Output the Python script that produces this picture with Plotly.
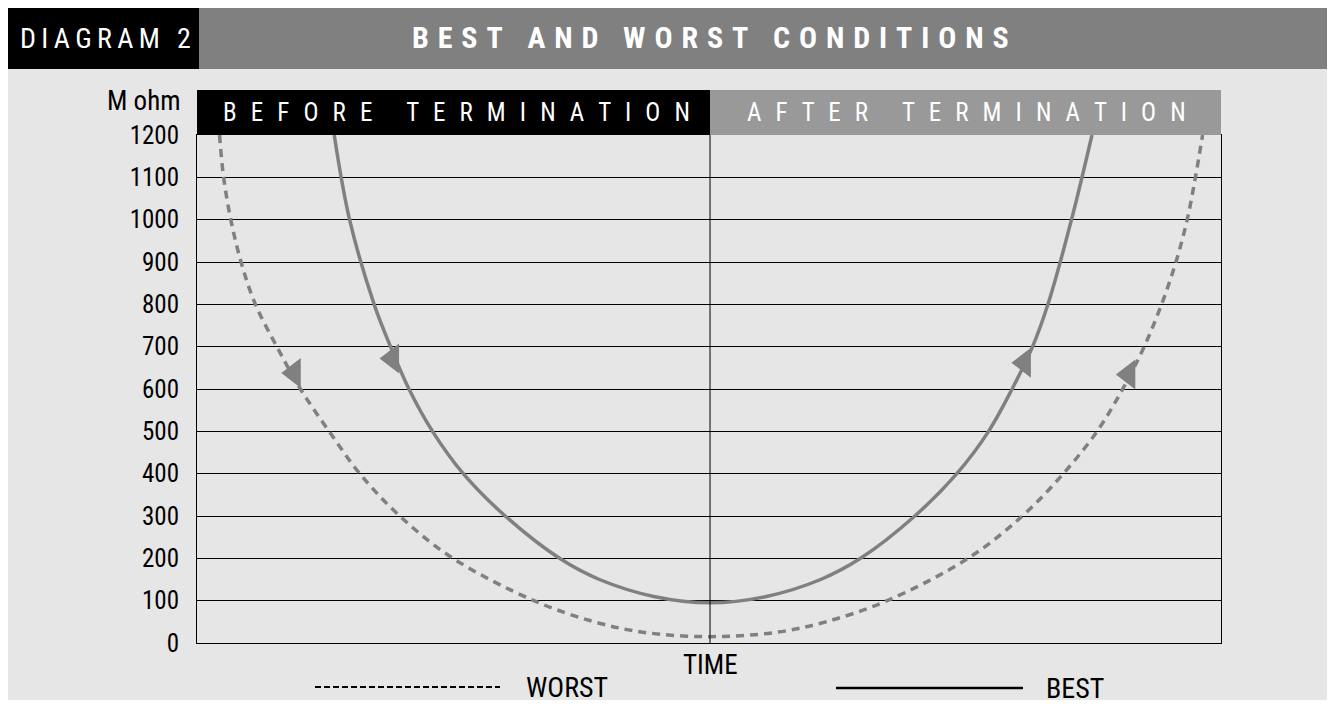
import plotly.graph_objects as go

# ---------------- data ----------------
best_time = [13.4, 14.9, 17.3, 18.9, 20.7, 23.0, 26.0, 30.1, 35.4, 39.3, 44.6, 50.1,
             55.6, 60.9, 64.8, 70.1, 74.2, 77.3, 79.6, 81.6, 83.1, 85.4, 87.4]
best_mohm = [1200, 1000, 800, 700, 600, 500, 400, 300, 200, 150, 110, 95,
             110, 150, 200, 300, 400, 500, 600, 700, 800, 1000, 1200]

worst_time = [2.2, 2.6, 3.3, 4.3, 5.7, 7.8, 10.1, 12.9, 15.9, 19.8, 25.0, 32.9, 38.8, 43.7, 50.1,
              56.5, 61.4, 67.4, 75.3, 80.6, 84.6, 87.9, 90.4, 92.5, 94.2, 95.6, 96.7, 97.5, 98.2]
worst_mohm = [1200, 1100, 1000, 900, 800, 700, 600, 500, 400, 300, 200, 100, 50, 25, 15,
              25, 50, 100, 200, 300, 400, 500, 600, 700, 800, 900, 1000, 1100, 1200]

arrow_time = [9.5, 19.1, 80.8, 91.0]
arrow_mohm = [638, 672, 662, 634]

y_ticks = [0, 100, 200, 300, 400, 500, 600, 700, 800, 900, 1000, 1100, 1200]
center_time = 50.1

title_text = "BEST AND WORST CONDITIONS"
diagram_text = "DIAGRAM 2"
before_words = ["BEFORE", "TERMINATION"]
after_words = ["AFTER", "TERMINATION"]

# ---------------- layout geometry (reference page pixels) ----------------
OFF = 8                      # page body margin
W, H = 1327, 699
L, R, T, B = 197, 1221, 135, 643
PW, PH = R - L, B - T

def px(x):
    return (x - L) / PW

def py(y):
    return (B - y) / PH

FONT = "'Liberation Sans Narrow', 'Roboto Condensed', 'DejaVu Sans Condensed', 'Arial Narrow', sans-serif"
GREY = "#808080"

def spread(words, sep, wsep):
    return wsep.join(sep.join(list(w)) for w in words)

fig = go.Figure()

fig.add_trace(go.Scatter(x=worst_time, y=worst_mohm, mode="lines", line_shape="spline",
                         line=dict(color=GREY, width=3.5, dash="8px,6px"), hoverinfo="skip"))
fig.add_trace(go.Scatter(x=best_time, y=best_mohm, mode="lines", line_shape="spline",
                         line=dict(color=GREY, width=3.5), hoverinfo="skip"))
fig.add_trace(go.Scatter(x=arrow_time, y=arrow_mohm, mode="markers",
                         marker=dict(symbol="triangle-left", size=26, color=GREY,
                                     line=dict(width=0)), hoverinfo="skip"))

shapes = []
shapes.append(dict(type="rect", xref="paper", yref="paper", x0=px(8), x1=px(1340), y0=py(700), y1=py(68),
                   fillcolor="#e6e6e6", line=dict(width=0), layer="below"))
shapes.append(dict(type="rect", xref="paper", yref="paper", x0=px(8), x1=px(199), y0=py(69), y1=py(8),
                   fillcolor="black", line=dict(width=0), layer="below"))
shapes.append(dict(type="rect", xref="paper", yref="paper", x0=px(199), x1=px(1340), y0=py(69), y1=py(8),
                   fillcolor=GREY, line=dict(width=0), layer="below"))
shapes.append(dict(type="rect", xref="paper", yref="paper", x0=px(197), x1=px(710), y0=py(135), y1=py(90),
                   fillcolor="black", line=dict(width=0)))
shapes.append(dict(type="rect", xref="paper", yref="paper", x0=px(710), x1=px(1221), y0=py(135), y1=py(90),
                   fillcolor="#999999", line=dict(width=0)))
shapes.append(dict(type="line", xref="x", yref="y", x0=center_time, x1=center_time, y0=0, y1=1200,
                   line=dict(color="black", width=1)))
shapes.append(dict(type="line", xref="paper", yref="paper", x0=px(315), x1=px(500), y0=py(687), y1=py(687),
                   line=dict(color="black", width=2, dash="6px,3px")))
shapes.append(dict(type="line", xref="paper", yref="paper", x0=px(836), x1=px(1023), y0=py(688), y1=py(688),
                   line=dict(color="black", width=2.5)))

ann = []
def add_text(text, x, y, size, color="black", xanchor="center"):
    ann.append(dict(text=text, xref="paper", yref="paper", x=px(x), y=py(y),
                    xanchor=xanchor, yanchor="middle", showarrow=False,
                    font=dict(family=FONT, size=size, color=color)))

add_text(spread([diagram_text], "\u2009", ""), 105, 39, 28, "white")
add_text("<b>" + spread(title_text.split(" "), "\u2009\u200a", "\u2009\u200a \u2009\u200a") + "</b>", 710, 38, 30, "white")
add_text(spread(before_words, "  \u200a", "      "), 456, 112, 25, "white")
add_text(spread(after_words, "  \u200a", "      "), 966, 112, 25, "white")
add_text("M ohm", 183, 101, 27, xanchor="right")
add_text("TIME", 710, 665, 27)
add_text("WORST", 524, 687, 28, xanchor="left")
add_text("BEST", 1044, 688, 28, xanchor="left")

fig.update_layout(
    width=W, height=H,
    margin=dict(l=L - OFF, r=W - (R - OFF), t=T - OFF, b=H - (B - OFF), pad=0),
    paper_bgcolor="white", plot_bgcolor="rgba(0,0,0,0)",
    showlegend=False,
    shapes=shapes, annotations=ann,
    xaxis=dict(range=[0, 100], showgrid=False, zeroline=False, showticklabels=False,
               showline=True, linecolor="black", linewidth=1, mirror=True, ticks=""),
    yaxis=dict(range=[0, 1200], tickvals=y_ticks, showgrid=True, gridcolor="black", gridwidth=1,
               zeroline=False, showline=True, linecolor="black", linewidth=1, mirror=True,
               ticks="", ticklabelstandoff=12,
               tickfont=dict(family=FONT, size=25, color="black")),
)

fig.write_html("out.html")
